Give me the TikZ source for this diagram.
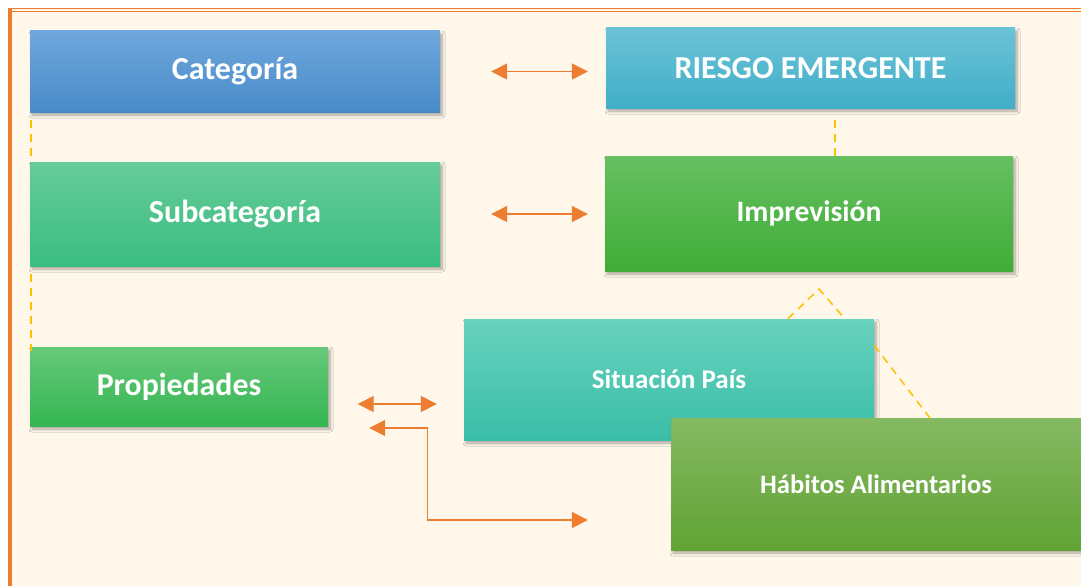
\documentclass[tikz,border=0pt]{standalone}
\usepackage{fontspec}
\setmainfont{Carlito}
\usetikzlibrary{arrows.meta,shadows.blur}
\definecolor{cream}{RGB}{254,247,234}
\definecolor{frameor}{RGB}{237,125,49}
\definecolor{dashy}{RGB}{255,192,0}
\definecolor{arrowor}{RGB}{237,125,49}
\tikzset{
  box/.style={rectangle, inner sep=0pt, text=white, draw=none,
    blur shadow={shadow xshift=2pt, shadow yshift=-3pt, shadow opacity=35, shadow blur steps=6, shadow blur radius=3pt}},
  dashcon/.style={draw=dashy, line width=1.5pt, dash pattern=on 8pt off 6pt},
  arr/.style={draw=arrowor, line width=1.4pt, {Triangle[length=16pt,width=16pt]}-{Triangle[length=16pt,width=16pt]}},
}
\begin{document}
\begin{tikzpicture}[x=1pt,y=-1pt]
\useasboundingbox (0,0) rectangle (1081,586);
\fill[white] (0,0) rectangle (1081,586);
\fill[cream] (8,9) rectangle (1081,586);
\draw[frameor, line width=1.5pt] (8,8.6) -- (1081,8.6);
\draw[frameor, line width=0.8pt] (12,11) -- (1081,11);
\draw[frameor, line width=4pt] (9.8,7.9) -- (9.8,586);

\node[box, minimum width=410pt, minimum height=81pt, top color={rgb,255:red,111;green,167;blue,220}, bottom color={rgb,255:red,72;green,139;blue,201},
  font=\fontsize{32}{38}\selectfont\bfseries] (cat) at (235,71.5) {Categoría};
\node[box, minimum width=409pt, minimum height=80pt, top color={rgb,255:red,107;green,195;blue,214}, bottom color={rgb,255:red,65;green,174;blue,200},
  font=\fontsize{32}{38}\selectfont\bfseries] (risk) at (810.5,68) {RIESGO EMERGENTE};
\node[box, minimum width=410pt, minimum height=104pt, top color={rgb,255:red,102;green,204;blue,153}, bottom color={rgb,255:red,58;green,188;blue,128},
  font=\fontsize{32}{38}\selectfont\bfseries] (sub) at (235,214) {Subcategoría};
\node[box, minimum width=408pt, minimum height=115pt, top color={rgb,255:red,102;green,191;blue,96}, bottom color={rgb,255:red,64;green,173;blue,55},
  font=\fontsize{29.6}{35}\selectfont\bfseries] (imp) at (809,213.5) {Imprevisión};
\node[box, minimum width=298pt, minimum height=79pt, top color={rgb,255:red,102;green,201;blue,122}, bottom color={rgb,255:red,53;green,181;blue,82},
  font=\fontsize{31.8}{38}\selectfont\bfseries] (prop) at (179,386.5) {Propiedades};
\node[box, minimum width=410pt, minimum height=121pt, top color={rgb,255:red,104;green,210;blue,190}, bottom color={rgb,255:red,58;green,190;blue,168},
  font=\fontsize{27}{32}\selectfont\bfseries] (sit) at (669,379.5) {Situación País};
\node[box, minimum width=410pt, minimum height=132pt, top color={rgb,255:red,133;green,185;blue,98}, bottom color={rgb,255:red,97;green,163;blue,52},
  font=\fontsize{26.6}{32}\selectfont\bfseries] (hab) at (876,484) {Hábitos Alimentarios};

% dashed connectors (visible parts only)
\draw[dashcon] ([xshift=1pt,yshift=-8pt]cat.south west) -- ([xshift=1pt]sub.north west);
\draw[dashcon] ([xshift=1pt,yshift=-8pt]sub.south west) -- ([xshift=1pt,yshift=-4pt]prop.north west);
\draw[dashcon] ([xshift=24.5pt,yshift=-12pt]risk.south) -- ([xshift=24.5pt]risk.south |- imp.north);
\coordinate (apex) at (819,289);
\draw[dashcon] ([xshift=324pt]sit.north west) -- (apex) -- ([xshift=381pt]sit.north west);
\draw[dashcon] ([yshift=-26.5pt]sit.north east) -- ([xshift=259pt]hab.north west);

\draw[arr, shorten <=51pt, shorten >=18pt] (cat.east) -- (cat.east -| risk.west);
\draw[arr, shorten <=51pt, shorten >=17pt] (sub.east) -- (sub.east -| imp.west);
\draw[arr, shorten <=29.5pt, shorten >=27pt] ([yshift=-17.5pt]prop.east) -- ([yshift=-17.5pt]prop.east -| sit.west);
\draw[arr, shorten <=41pt, shorten >=83pt] ([yshift=-41.5pt]prop.east) -- ++(99,0) |- ([yshift=-36pt]hab.west);
\end{tikzpicture}
\end{document}
